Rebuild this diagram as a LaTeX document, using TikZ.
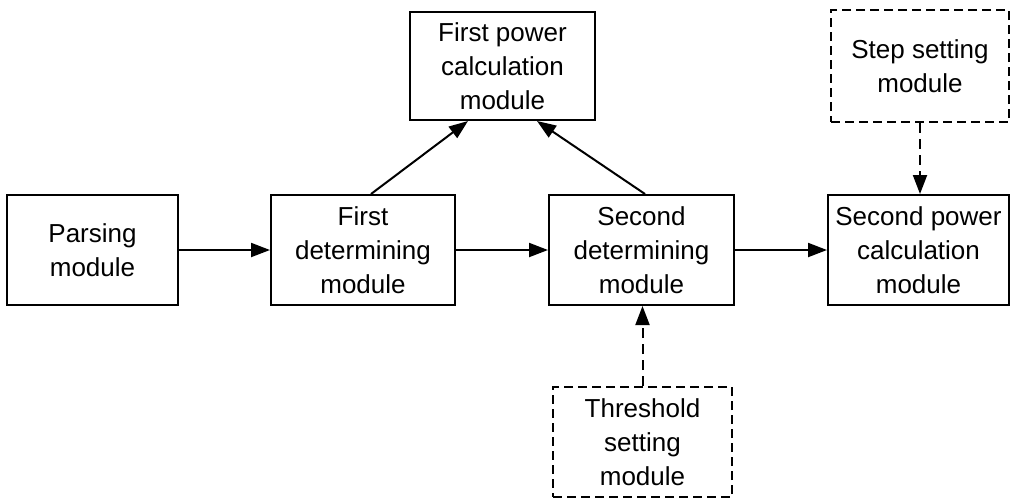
\documentclass[tikz,border=0pt]{standalone}
\usepackage{fontspec}
\setmainfont{Liberation Sans}
\usetikzlibrary{arrows.meta}
\begin{document}
\begin{tikzpicture}[x=1pt,y=-1pt,
  box/.style={draw, line width=2pt, align=center, inner sep=0pt,
    font=\fontsize{26}{34}\selectfont},
  dbox/.style={box, dash pattern=on 9pt off 5pt},
  conn/.style={line width=2pt, -{Triangle[length=19pt,width=14pt]}},
  dconn/.style={conn, dash pattern=on 10pt off 6pt}]
\useasboundingbox (0,0) rectangle (1011,499);
\node[box, minimum width=171pt, minimum height=110pt] (parse) at (92.5,250) {Parsing\\module};
\node[box, minimum width=184pt, minimum height=110pt] (fdet) at (363,250) {First\\determining\\module};
\node[box, minimum width=185pt, minimum height=110pt] (sdet) at (641.5,250) {Second\\determining\\module};
\node[box, minimum width=181pt, minimum height=110pt] (spow) at (918.5,250) {Second power\\calculation\\module};
\node[box, minimum width=185pt, minimum height=108pt] (fpow) at (502.5,66) {First power\\calculation\\module};
\node[dbox, minimum width=178pt, minimum height=112pt] (step) at (920,66) {Step setting\\module};
\node[dbox, minimum width=179pt, minimum height=110pt] (thr) at (642.5,442) {Threshold\\setting\\module};
\draw[conn] (parse) -- (fdet);
\draw[conn] (fdet) -- (sdet);
\draw[conn] (sdet) -- (spow);
\draw[conn] ([xshift=8pt]fdet.north) -- ([xshift=-34.5pt]fpow.south);
\draw[conn] ([xshift=3.5pt]sdet.north) -- ([xshift=34.5pt]fpow.south);
\draw[dconn] (step.south) -- (step.south |- spow.north);
\draw[dconn] (thr.north) -- (thr.north |- sdet.south);
\end{tikzpicture}
\end{document}
